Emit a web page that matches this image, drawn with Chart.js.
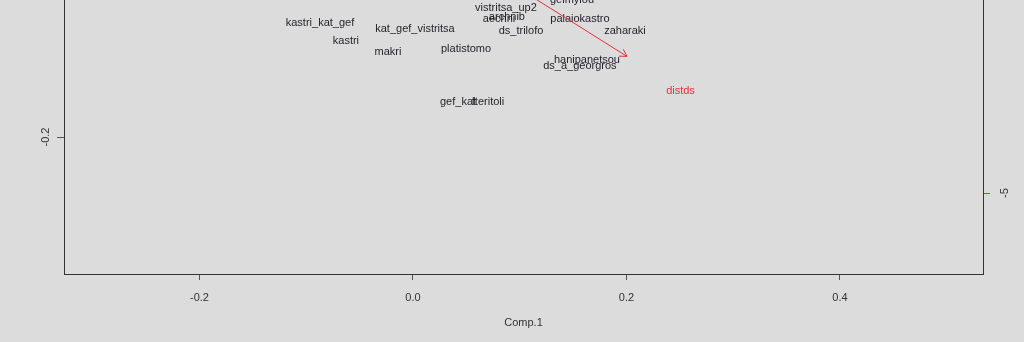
<!DOCTYPE html>
<html>
<head>
<meta charset="utf-8">
<script src="https://cdn.jsdelivr.net/npm/chart.js@4.4.1/dist/chart.umd.min.js"></script>
<style>
  html, body { margin: 0; padding: 0; background: #dcdcdc; }
  #wrap { width: 1024px; height: 342px; }
</style>
</head>
<body>
<div id="wrap"><canvas id="biplot" width="1024" height="342"></canvas></div>
<script>
// --- scores (Comp.1 / Comp.2) ---
const siteNames = ['vistritsa_up2', 'geimylou', 'archnib', 'aechni', 'kastri_kat_gef',
  'kat_gef_vistritsa', 'kastri', 'makri', 'platistomo', 'ds_trilofo', 'palaiokastro',
  'zaharaki', 'hanipanetsou', 'ds_a_georgros', 'gef_kat', 'fteritoli'];
const comp1 = [0.0871, 0.149, 0.088, 0.0806, -0.0871, 0.0019, -0.0628, -0.0234, 0.0497,
  0.1012, 0.1564, 0.1986, 0.163, 0.1564, 0.0422, 0.0703];
const comp2 = [-0.0791, -0.0716, -0.0874, -0.0893, -0.093, -0.0986, -0.1098, -0.12, -0.1172,
  -0.1005, -0.0893, -0.1005, -0.1274, -0.133, -0.1665, -0.1665];

// --- loadings (secondary axes) ---
const varNames = ['distds'];
const loadX = [4.97];
const loadY = [-3.1];

// --- axis ranges & ticks ---
const xRange = [-0.3269, 0.534];
const yRange = [-0.3274, -0.0726];
const loadRatio = 19.83;
const xTicks = [-0.2, 0.0, 0.2, 0.4];
const yTicks = [-0.2];
const y2Ticks = [-5];

const INK = '#221e28';
const RED = '#e8303a';
const FONT = '"Liberation Sans", Arial, sans-serif';

const bgPlugin = {
  id: 'bg',
  beforeDraw(chart) {
    const c = chart.ctx;
    c.save();
    c.fillStyle = '#dcdcdc';
    c.fillRect(0, 0, chart.width, chart.height);
    c.restore();
  },
};

// point labels, arrows and rotated y tick labels
const biplotPlugin = {
  id: 'biplot',
  afterDraw(chart) {
    const c = chart.ctx;
    c.save();
    c.font = '11px ' + FONT;
    c.textAlign = 'center';
    c.textBaseline = 'middle';

    // site names at score positions
    const sMeta = chart.getDatasetMeta(0);
    c.fillStyle = INK;
    sMeta.data.forEach((pt, i) => c.fillText(siteNames[i], pt.x, pt.y + 1));

    // loading arrows
    const x2 = chart.scales.x2;
    const y2 = chart.scales.y2;
    const ox = x2.getPixelForValue(0);
    const oy = y2.getPixelForValue(0);
    varNames.forEach((name, i) => {
      const tx = x2.getPixelForValue(loadX[i] * 0.8);
      const ty = y2.getPixelForValue(loadY[i] * 0.8);
      c.strokeStyle = RED;
      c.lineWidth = 1;
      c.beginPath();
      c.moveTo(ox, oy);
      c.lineTo(tx, ty);
      const ang = Math.atan2(ty - oy, tx - ox);
      const head = 8;
      c.moveTo(tx, ty);
      c.lineTo(tx - head * Math.cos(ang - Math.PI / 6), ty - head * Math.sin(ang - Math.PI / 6));
      c.moveTo(tx, ty);
      c.lineTo(tx - head * Math.cos(ang + Math.PI / 6), ty - head * Math.sin(ang + Math.PI / 6));
      c.stroke();
      c.fillStyle = RED;
      c.fillText(name, x2.getPixelForValue(loadX[i]), y2.getPixelForValue(loadY[i]) + 1);
    });

    // rotated tick labels on the vertical axes
    c.fillStyle = '#333';
    const yScale = chart.scales.y;
    yTicks.forEach((v) => {
      c.save();
      c.translate(yScale.right - 18, yScale.getPixelForValue(v));
      c.rotate(-Math.PI / 2);
      c.fillText(v.toFixed(1), 0, 0);
      c.restore();
    });
    y2Ticks.forEach((v) => {
      c.save();
      c.translate(y2.left + 22, y2.getPixelForValue(v));
      c.rotate(-Math.PI / 2);
      c.fillText(String(v), 0, 0);
      c.restore();
    });
    c.restore();
  },
};

new Chart(document.getElementById('biplot'), {
  type: 'scatter',
  data: {
    datasets: [
      {
        label: 'scores',
        data: comp1.map((v, i) => ({ x: v, y: comp2[i] })),
        pointRadius: 0,
        xAxisID: 'x',
        yAxisID: 'y',
      },
      {
        label: 'loadings',
        data: loadX.map((v, i) => ({ x: v, y: loadY[i] })),
        pointRadius: 0,
        xAxisID: 'x2',
        yAxisID: 'y2',
      },
    ],
  },
  options: {
    responsive: false,
    animation: false,
    events: [],
    layout: { padding: 0 },
    plugins: { legend: { display: false }, tooltip: { enabled: false } },
    scales: {
      x: {
        type: 'linear',
        position: 'bottom',
        min: xRange[0],
        max: xRange[1],
        afterBuildTicks: (s) => { s.ticks = xTicks.map((v) => ({ value: v })); },
        afterFit: (s) => { s.height = 68; },
        grid: { drawOnChartArea: false, tickLength: 6, color: '#333', tickColor: '#555' },
        border: { color: '#333', width: 1 },
        ticks: {
          color: '#333',
          font: { family: FONT, size: 11 },
          padding: 11,
          callback: (v) => Number(v).toFixed(1),
        },
        title: {
          display: true,
          text: 'Comp.1',
          color: '#333',
          font: { family: FONT, size: 11 },
          padding: { top: 0, bottom: 12 },
        },
      },
      y: {
        type: 'linear',
        position: 'left',
        min: yRange[0],
        max: yRange[1],
        afterBuildTicks: (s) => { s.ticks = yTicks.map((v) => ({ value: v })); },
        afterFit: (s) => { s.width = 64; },
        grid: { drawOnChartArea: false, tickLength: 7, color: '#333', tickColor: '#555' },
        border: { color: '#333', width: 1 },
        ticks: { display: false },
      },
      x2: {
        type: 'linear',
        display: false,
        min: xRange[0] * loadRatio,
        max: xRange[1] * loadRatio,
      },
      y2: {
        type: 'linear',
        position: 'right',
        min: yRange[0] * loadRatio,
        max: yRange[1] * loadRatio,
        afterBuildTicks: (s) => { s.ticks = y2Ticks.map((v) => ({ value: v })); },
        afterFit: (s) => { s.width = 41; },
        grid: { drawOnChartArea: false, tickLength: 7, color: RED, tickColor: RED },
        border: { color: '#333', width: 1 },
        ticks: { display: false },
      },
    },
  },
  plugins: [bgPlugin, biplotPlugin],
});
</script>
</body>
</html>
